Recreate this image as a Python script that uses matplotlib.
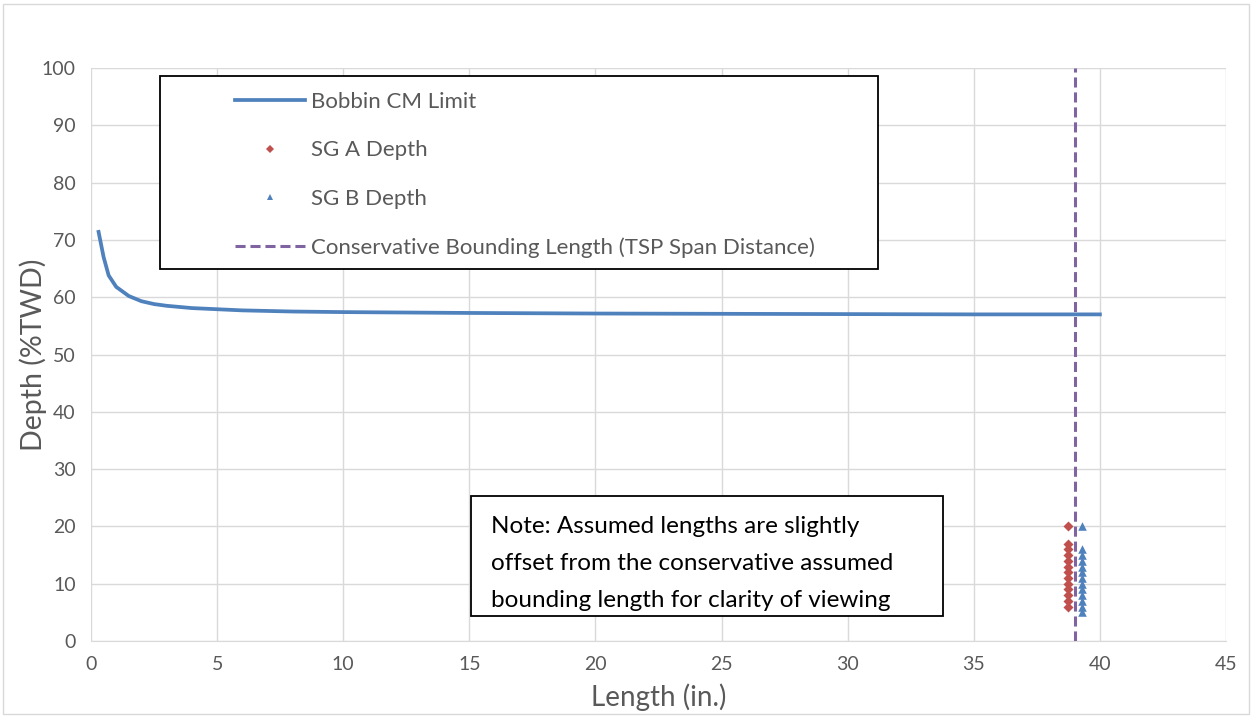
import matplotlib
matplotlib.use("Agg")
import matplotlib.pyplot as plt
from matplotlib.patches import Rectangle
from matplotlib.lines import Line2D

plt.rcParams['font.family'] = ['Lato', 'DejaVu Sans']

# ---------- data ----------
limit_len = [0.3, 0.5, 0.7, 1.0, 1.5, 2.0, 2.5, 3.0, 4.0, 5.0, 6.0, 8.0,
             10.0, 15.0, 20.0, 25.0, 30.0, 35.0, 40.0]
limit_depth = [71.4, 67.0, 63.8, 61.8, 60.2, 59.3, 58.8, 58.5, 58.1, 57.9,
               57.7, 57.5, 57.4, 57.25, 57.15, 57.1, 57.05, 57.0, 57.0]

sg_a_len = [38.75] * 13
sg_a_depth = [20, 17, 16, 15, 14, 13, 12, 11, 10, 9, 8, 7, 6]
sg_b_len = [39.3] * 13
sg_b_depth = [20, 16, 15, 14, 13, 12, 11, 10, 9, 8, 7, 6, 5]

bound_len = 39.0

x_ticks = [0, 5, 10, 15, 20, 25, 30, 35, 40, 45]
y_ticks = [0, 10, 20, 30, 40, 50, 60, 70, 80, 90, 100]

labels = ["Bobbin CM Limit", "SG A Depth", "SG B Depth",
          "Conservative Bounding Length (TSP Span Distance)"]
note = ("Note: Assumed lengths are slightly\n"
        "offset from the conservative assumed\n"
        "bounding length for clarity of viewing")

blue = "#4F81BD"
red = "#C0504D"
purple = "#8064A2"
grey_txt = "#595959"
dash = (0, (3.3, 1.6))

fig = plt.figure(figsize=(12.52, 7.16), dpi=100)
ax = fig.add_axes([91/1252, 75/716, 1135/1252, 573/716])

# outer chart border
fig.patches.append(Rectangle((3/1252, 2/716), 1246/1252, 710/716,
                             transform=fig.transFigure, fill=False,
                             ec="#d9d9d9", lw=1))

ax.plot(limit_len, limit_depth, color=blue, lw=2.7, zorder=3)
ax.scatter(sg_a_len, sg_a_depth, marker="D", s=26, color=red, lw=0, zorder=4)
ax.scatter(sg_b_len, sg_b_depth, marker="^", s=38, color=blue, lw=0, zorder=4)
ax.axvline(bound_len, color=purple, lw=2.2, ls=dash, zorder=3)

ax.set_xlim(0, 45)
ax.set_ylim(0, 100)
ax.set_xticks(x_ticks)
ax.set_yticks(y_ticks)
ax.grid(color="#d9d9d9", lw=1)
ax.set_axisbelow(True)
for s in ["top", "right", "left"]:
    ax.spines[s].set_visible(False)
ax.spines["bottom"].set_color("#d9d9d9")
ax.tick_params(length=0, colors=grey_txt, labelsize=14, pad=11)
ax.set_xlabel("Length (in.)", fontsize=20, color=grey_txt, labelpad=7)
ax.set_ylabel("Depth (%TWD)", fontsize=20.5, color=grey_txt)
ax.yaxis.set_label_coords((47 - 91) / 1135, 0.5)

# legend box
lx0 = (160 - 91) / 1135
ly0 = (641 - 269) / 573
ax.add_patch(Rectangle((lx0, ly0), (878 - 160) / 1135, (269 - 76) / 573,
                       transform=ax.transAxes, fc="white", ec="black", lw=1.3, zorder=5))
handles = [
    Line2D([], [], color=blue, lw=2.7),
    Line2D([], [], color=red, marker="D", ls="", ms=4, mew=0),
    Line2D([], [], color=blue, marker="^", ls="", ms=5, mew=0),
    Line2D([], [], color=purple, lw=2.2, ls=dash),
]
leg = ax.legend(handles, labels, loc="upper left",
                bbox_to_anchor=((235 - 91) / 1135, (641 - 92) / 573),
                frameon=False, fontsize=16, labelcolor=grey_txt,
                handlelength=3.15, handletextpad=0.27, labelspacing=1.28,
                borderpad=0, borderaxespad=0)
leg.set_zorder(6)

# note box
nx0 = (471 - 91) / 1135
ny0 = (641 - 616) / 573
ax.add_patch(Rectangle((nx0, ny0), (943 - 471) / 1135, (616 - 496) / 573,
                       transform=ax.transAxes, fc="white", ec="black", lw=1.3, zorder=5))
ax.text((491 - 91) / 1135, (641 - 516) / 573, note, transform=ax.transAxes,
        ha="left", va="top", fontsize=17.5, color="black", linespacing=1.95, zorder=6)

fig.savefig("out.png", dpi=100)
